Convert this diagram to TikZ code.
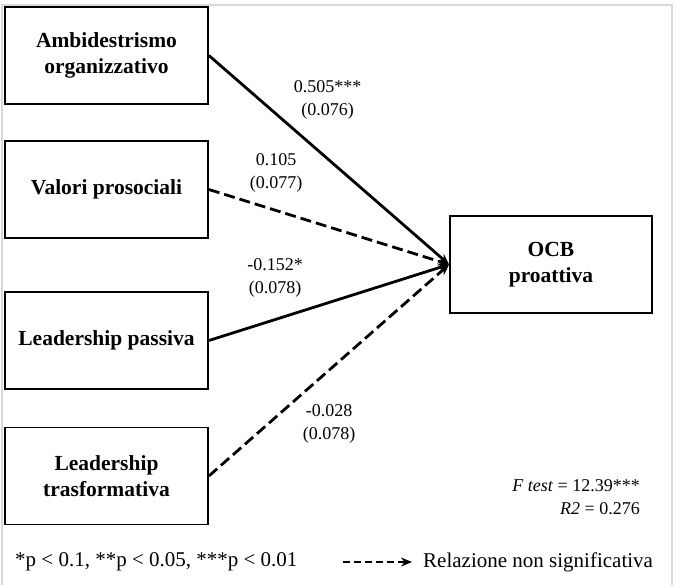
\documentclass[tikz,border=0pt]{standalone}
\usepackage{fontspec}
\setmainfont{Liberation Serif}
\usetikzlibrary{arrows.meta}
\begin{document}
\begin{tikzpicture}[x=1pt,y=-1pt,
  varbox/.style={draw,line width=1.8pt,minimum width=203pt,minimum height=97pt,align=center,inner sep=0pt,font=\fontsize{21.5}{26}\selectfont\bfseries},
  coef/.style={align=center,inner sep=0pt,font=\fontsize{18}{23.5}\selectfont},
  path/.style={line width=2.8pt,-{Stealth[length=11pt,width=9pt]}},
  nsig/.style={path,dash pattern=on 11pt off 5pt},
  frame/.style={draw=black!15,line width=2pt}]
\useasboundingbox (0,0) rectangle (676,585);
\draw[frame] (2,585) -- (2,5) -- (672,5) -- (672,585);
\node[varbox] (amb) at (106.5,55.5) {Ambidestrismo\\organizzativo};
\node[varbox] (val) at (106.5,189.5) {Valori prosociali};
\node[varbox] (lp) at (106.5,340.5) {Leadership passiva};
\node[varbox] (lt) at (106.5,476) {Leadership\\trasformativa};
\node[varbox,minimum width=202pt] (ocb) at (551,264.5) {OCB\\proattiva};
\draw[path] (amb.east) -- (ocb.west);
\draw[nsig] (val.east) -- (ocb.west);
\draw[path] (lp.east) -- (ocb.west);
\draw[nsig] (lt.east) -- (ocb.west);
\node[coef] (c1) at (327.5,100) {0.505***\\(0.076)};
\node[coef] (c2) at (276,173) {0.105\\(0.077)};
\node[coef] (c3) at (275,278) {-0.152*\\(0.078)};
\node[coef] (c4) at (329,424) {-0.028\\(0.078)};
\node[coef,align=right,anchor=east] (fit) at (640,497) {\textit{F test} = 12.39***\\\textit{R2} = 0.276};
\node[anchor=west,inner sep=0pt,font=\fontsize{21}{25}\selectfont] (sig) at (15,562) {*p < 0.1, **p < 0.05, ***p < 0.01};
\coordinate (la) at (343,562);
\node[anchor=west,inner sep=0pt,font=\fontsize{21}{25}\selectfont] (leg) at (423,562) {Relazione non significativa};
\draw[line width=2.6pt,dash pattern=on 7pt off 4pt,-{Stealth[length=11pt,width=9pt]}] (la) -- ([xshift=-11pt]leg.west);
\end{tikzpicture}
\end{document}
